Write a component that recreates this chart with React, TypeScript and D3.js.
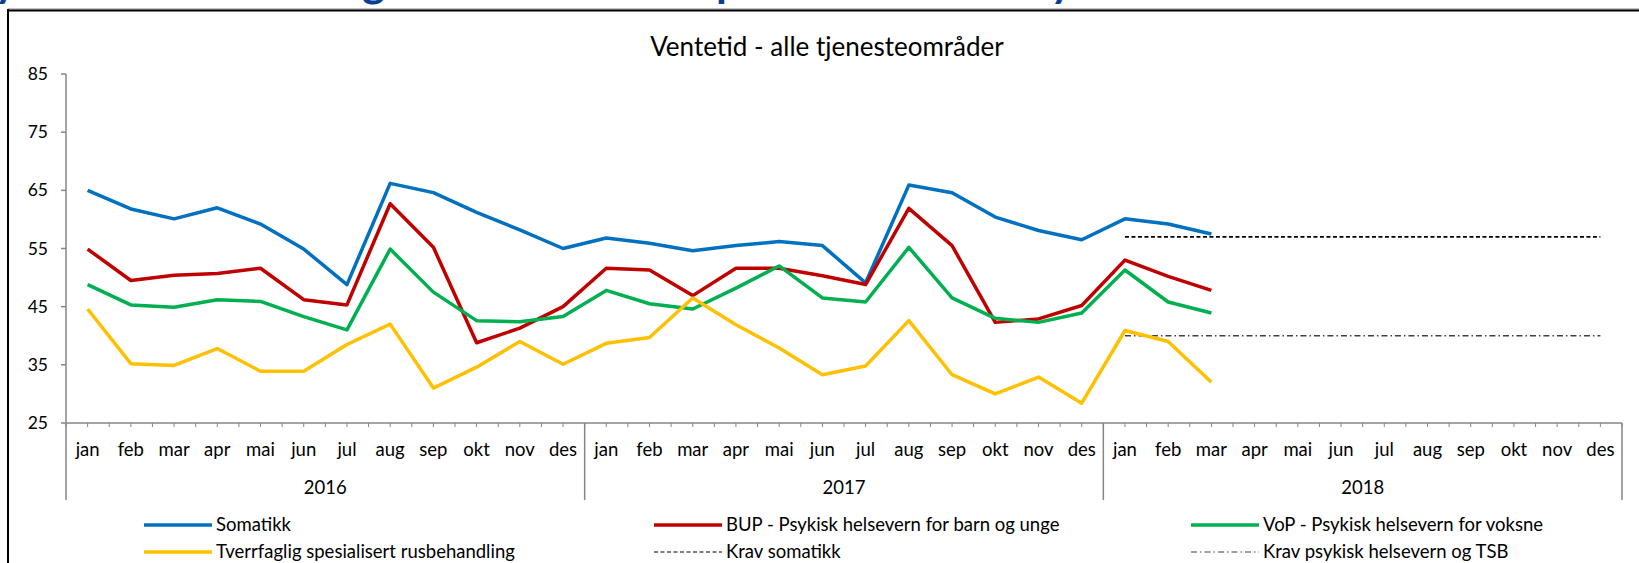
import * as d3 from "d3";

const W = 1639;
const H = 563;

const months = ["jan", "feb", "mar", "apr", "mai", "jun", "jul", "aug", "sep", "okt", "nov", "des"];
const years = ["2016", "2017", "2018"];

// ventetid i dager, jan 2016 - mar 2018
const somatikk = [
  65.0, 61.8, 60.1, 62.0, 59.2, 54.9, 48.8, 66.2, 64.6, 61.2, 58.2, 55.0,
  56.8, 55.9, 54.6, 55.5, 56.2, 55.5, 49.1, 65.9, 64.6, 60.4, 58.1, 56.5,
  60.1, 59.2, 57.5,
];
const bup = [
  54.9, 49.5, 50.4, 50.7, 51.6, 46.2, 45.3, 62.7, 55.2, 38.8, 41.3, 45.0,
  51.6, 51.3, 46.9, 51.6, 51.6, 50.3, 48.8, 61.9, 55.5, 42.3, 42.9, 45.2,
  53.0, 50.2, 47.8,
];
const vop = [
  48.8, 45.3, 44.9, 46.2, 45.9, 43.3, 41.0, 54.9, 47.5, 42.6, 42.4, 43.3,
  47.8, 45.5, 44.6, 48.2, 52.0, 46.5, 45.8, 55.2, 46.5, 43.0, 42.3, 43.9,
  51.3, 45.8, 43.9,
];
const tsb = [
  44.6, 35.2, 34.9, 37.8, 33.9, 33.9, 38.5, 42.0, 31.0, 34.6, 39.0, 35.1,
  38.7, 39.7, 46.5, 41.9, 37.9, 33.3, 34.8, 42.6, 33.3, 30.0, 32.9, 28.4,
  40.9, 39.0, 32.0,
];
const kravSomatikk = 57;
const kravPsykisk = 40;

const yTicks = [25, 35, 45, 55, 65, 75, 85];

const FONT = "Lato, 'Open Sans', sans-serif";
const left = 66;
const right = 1622;
const top = 74;
const bottom = 423;

const keys = years.flatMap((y) => months.map((m) => `${y}-${m}`));
const x = d3.scaleBand<string>().domain(keys).range([left, right]);
const y = d3.scaleLinear().domain([25, 85]).range([bottom, top]);
const bw = x.bandwidth();
const cx = (i: number) => (x(keys[i]) as number) + bw / 2;

const line = d3
  .line<number>()
  .x((_, i) => cx(i))
  .y((d) => y(d));

const series = [
  { name: "Somatikk", data: somatikk, color: "#0070C0" },
  { name: "BUP - Psykisk helsevern for barn og unge", data: bup, color: "#C00000" },
  { name: "VoP - Psykisk helsevern for voksne", data: vop, color: "#00B050" },
  { name: "Tverrfaglig spesialisert rusbehandling", data: tsb, color: "#FFC000" },
];

const kravStart = 24;
const kravEnd = 35;

// bits of the slide heading that are cut off above the chart
const headingBits = [
  { ch: "y", x: -6 },
  { ch: "g", x: 362 },
  { ch: "p", x: 716 },
  { ch: "y", x: 1050 },
];

export default function App() {
  const ticksX = d3.range(0, keys.length * 2 + 1).map((i) => left + (i * bw) / 2);
  const legend = [
    { label: series[0].name, color: series[0].color, col: 0, row: 0, dash: "" },
    { label: series[1].name, color: series[1].color, col: 1, row: 0, dash: "" },
    { label: series[2].name, color: series[2].color, col: 2, row: 0, dash: "" },
    { label: series[3].name, color: series[3].color, col: 0, row: 1, dash: "" },
    { label: "Krav somatikk", color: "#000", col: 1, row: 1, dash: "4 2.5" },
    { label: "Krav psykisk helsevern og TSB", color: "#404040", col: 2, row: 1, dash: "6 3 1.5 3" },
  ];
  const colX = [144, 654, 1191];
  const rowY = [525, 552];
  return (
    <div style={{ position: "fixed", left: 0, top: 0 }}>
      <svg width={W} height={H} style={{ display: "block", background: "#fff" }}>
        <rect x={0} y={0} width={W} height={H} fill="#fff" />
        {headingBits.map((b, i) => (
          <text key={i} x={b.x} y={-3} fontFamily={FONT} fontWeight="bold" fontSize={44} fill="#0B3F91">
            {b.ch}
          </text>
        ))}
        {/* chart frame */}
        <line x1={8} x2={W} y1={9} y2={9} stroke="#888" strokeWidth={1} />
        <line x1={8} x2={W} y1={10.5} y2={10.5} stroke="#000" strokeWidth={2} />
        <line x1={8} x2={8} y1={9} y2={H} stroke="#000" strokeWidth={2} />

        <text x={827} y={56} textAnchor="middle" fontFamily={FONT} fontSize={26} fill="#000">
          Ventetid - alle tjenesteområder
        </text>

        {/* y axis */}
        <line x1={left} x2={left} y1={top} y2={500} stroke="#868686" strokeWidth={1.5} />
        {yTicks.map((t) => (
          <g key={t}>
            <line x1={left - 5} x2={left} y1={y(t)} y2={y(t)} stroke="#868686" strokeWidth={1.5} />
            <text x={48} y={y(t) + 6} textAnchor="end" fontFamily={FONT} fontSize={17.5} fill="#000">
              {t}
            </text>
          </g>
        ))}

        {/* x axis */}
        <line x1={left} x2={right} y1={bottom} y2={bottom} stroke="#868686" strokeWidth={1.5} />
        {ticksX.map((tx, i) => (
          <line key={i} x1={tx} x2={tx} y1={bottom} y2={bottom + 4} stroke="#868686" strokeWidth={1} />
        ))}
        {years.map((yr) => {
          const x0 = x(`${yr}-jan`) as number;
          const x1 = (x(`${yr}-des`) as number) + bw;
          return (
            <g key={yr}>
              <line x1={x1} x2={x1} y1={bottom} y2={500} stroke="#868686" strokeWidth={1.5} />
              <text x={(x0 + x1) / 2} y={494} textAnchor="middle" fontFamily={FONT} fontSize={18.5} fill="#000">
                {yr}
              </text>
            </g>
          );
        })}
        {keys.map((k, i) => (
          <text key={k} x={cx(i)} y={456} textAnchor="middle" fontFamily={FONT} fontSize={18.5} fill="#000">
            {months[i % 12]}
          </text>
        ))}

        {/* krav */}
        <line
          x1={cx(kravStart)}
          x2={cx(kravEnd)}
          y1={y(kravSomatikk)}
          y2={y(kravSomatikk)}
          stroke="#000"
          strokeWidth={1.6}
          strokeDasharray="4 2.5"
        />
        <line
          x1={cx(kravStart)}
          x2={cx(kravEnd)}
          y1={y(kravPsykisk)}
          y2={y(kravPsykisk)}
          stroke="#404040"
          strokeWidth={1.6}
          strokeDasharray="6 3 1.5 3"
        />

        {/* series */}
        {series.map((s) => (
          <path
            key={s.name}
            d={line(s.data) as string}
            fill="none"
            stroke={s.color}
            strokeWidth={3.5}
            strokeLinejoin="round"
          />
        ))}

        {/* legend */}
        {legend.map((l) => {
          const lx = colX[l.col];
          const ly = rowY[l.row];
          return (
            <g key={l.label}>
              <line
                x1={lx}
                x2={lx + 68}
                y1={ly}
                y2={ly}
                stroke={l.color}
                strokeWidth={l.dash ? 1.2 : 3.5}
                strokeDasharray={l.dash || undefined}
              />
              <text x={lx + 72} y={ly + 6} fontFamily={FONT} fontSize={18.5} fill="#000">
                {l.label}
              </text>
            </g>
          );
        })}
      </svg>
    </div>
  );
}
